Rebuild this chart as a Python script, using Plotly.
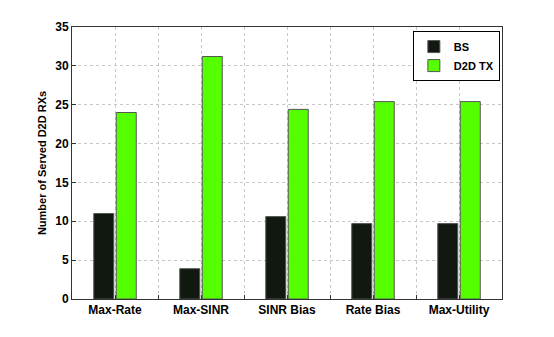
import plotly.graph_objects as go

categories = ["Max-Rate", "Max-SINR", "SINR Bias", "Rate Bias", "Max-Utility"]
bs_values = [11.0, 3.9, 10.6, 9.7, 9.7]
d2d_values = [24.0, 31.2, 24.4, 25.4, 25.4]
y_ticks = [0, 5, 10, 15, 20, 25, 30, 35]

x_pos = list(range(1, len(categories) + 1))
mid_pos = [p + 0.5 for p in x_pos[:-1]]

fig = go.Figure()
fig.add_trace(go.Bar(x=x_pos, y=bs_values, name="BS",
                     marker=dict(color="#101810", line=dict(color="#555555", width=1))))
fig.add_trace(go.Bar(x=x_pos, y=d2d_values, name="D2D TX",
                     marker=dict(color="#55FF00", line=dict(color="#555555", width=1))))

font_family = "Liberation Sans, Arial, sans-serif"
fig.update_layout(
    width=546, height=329,
    margin=dict(l=64, r=52, t=17, b=38),
    paper_bgcolor="white", plot_bgcolor="white",
    barmode="group", bargap=0.477, bargroupgap=0.11,
    font=dict(family=font_family, size=12, color="black"),
    showlegend=True,
    legend=dict(x=0.995, y=0.985, xanchor="right", yanchor="top",
                bgcolor="white", bordercolor="black", borderwidth=1,
                font=dict(size=11, family=font_family, weight="bold"),
                tracegroupgap=0, itemwidth=30),
)
fig.update_xaxes(
    range=[0.5, 5.5], tickvals=x_pos, ticktext=categories,
    tickfont=dict(size=12, weight="bold"),
    showline=True, linecolor="#333333", linewidth=1, mirror=True,
    showgrid=True, gridcolor="#c8c8c8", griddash="dot", gridwidth=1,
    ticks="inside", ticklen=4, tickcolor="#333333",
    minor=dict(tickvals=mid_pos, showgrid=True, gridcolor="#c8c8c8", griddash="dot",
               ticks="inside", ticklen=4, tickcolor="#333333"),
    zeroline=False,
)
fig.update_yaxes(
    range=[0, 35], tickvals=y_ticks,
    tickfont=dict(size=12, weight="bold"),
    title=dict(text="Number of Served D2D RXs", font=dict(size=11, weight="bold"), standoff=6),
    showline=True, linecolor="#333333", linewidth=1, mirror=True,
    showgrid=True, gridcolor="#c8c8c8", griddash="dot", gridwidth=1,
    ticks="inside", ticklen=4, tickcolor="#333333",
    zeroline=False,
)

fig.write_html("out.html")
